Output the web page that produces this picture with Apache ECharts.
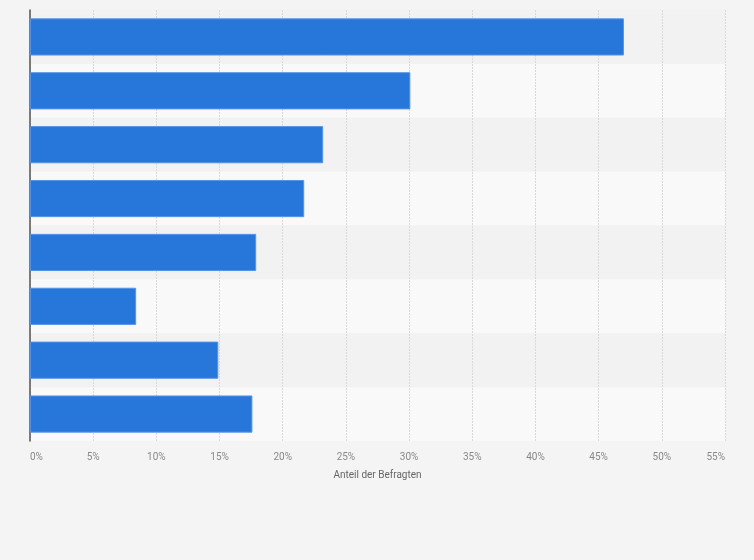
<!DOCTYPE html>
<html>
<head>
<meta charset="utf-8">
<script src="https://cdn.jsdelivr.net/npm/echarts@6/dist/echarts.min.js"></script>
<style>
html,body{margin:0;padding:0;background:#f4f4f4;}
#c{width:754px;height:560px;}
</style>
</head>
<body>
<div id="c"></div>
<script>
const categories = ['A', 'B', 'C', 'D', 'E', 'F', 'G', 'H'];
const values = [47.0, 30.1, 23.2, 21.7, 17.9, 8.4, 14.9, 17.6];
const axisName = 'Anteil der Befragten';

const chart = echarts.init(document.getElementById('c'));
chart.setOption({
  backgroundColor: '#f4f4f4',
  animation: false,
  grid: { left: 30, right: 29, top: 10, bottom: 119, containLabel: false },
  xAxis: {
    type: 'value',
    min: 0, max: 55, interval: 5,
    name: axisName,
    nameLocation: 'middle',
    nameGap: 29,
    nameTextStyle: { color: '#666', fontSize: 10, fontFamily: 'Roboto' },
    axisLine: { show: false },
    axisTick: { show: false },
    axisLabel: {
      formatter: '{value}%', color: '#888', fontSize: 10, fontFamily: 'Roboto', margin: 11,
      alignMinLabel: 'left', alignMaxLabel: 'right'
    },
    splitLine: { show: true, lineStyle: { color: '#d9d9d9', type: [2, 1], width: 1 } }
  },
  yAxis: {
    type: 'category',
    data: categories,
    inverse: true,
    axisLine: { show: true, lineStyle: { color: '#555', width: 1.5 } },
    axisTick: { show: false },
    axisLabel: { show: false },
    splitArea: { show: true, areaStyle: { color: ['#f2f2f2', '#f9f9f9'] } }
  },
  series: [{
    type: 'bar',
    data: values,
    barWidth: '69%',
    itemStyle: { color: '#2776da', borderColor: '#5594e6', borderWidth: 1 }
  }]
});
</script>
</body>
</html>
